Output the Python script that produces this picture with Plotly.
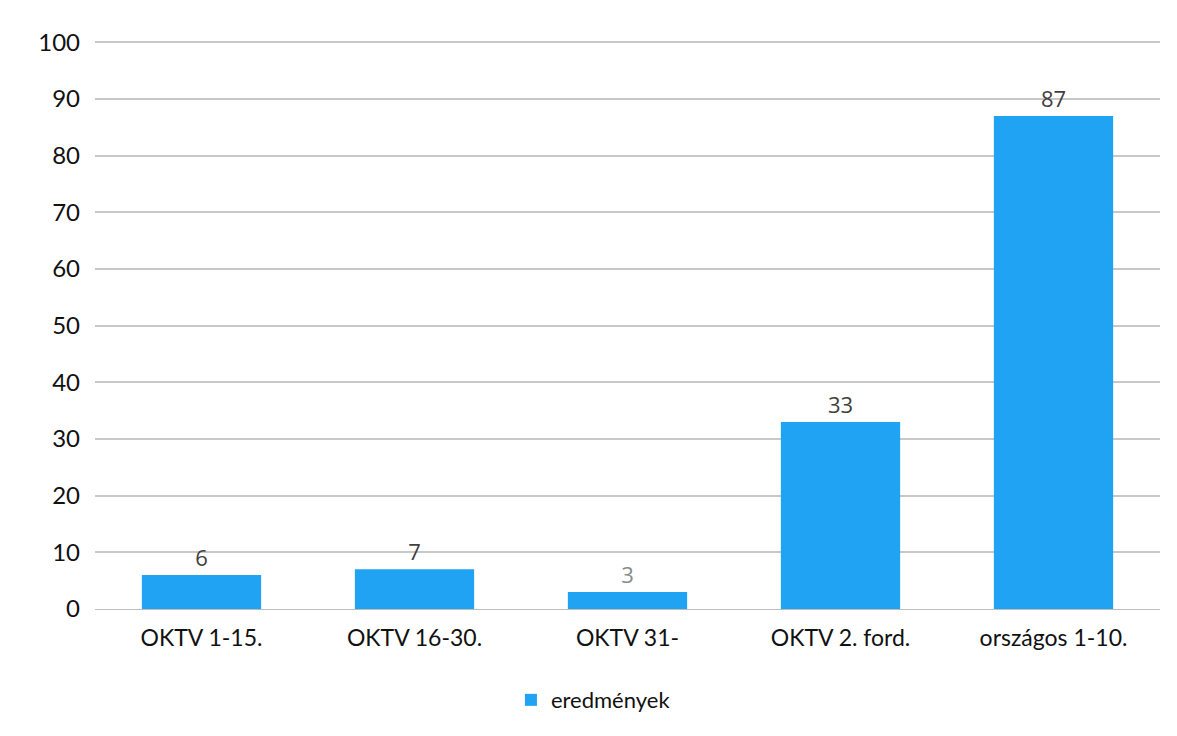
import plotly.graph_objects as go

categories = ["OKTV 1-15.", "OKTV 16-30.", "OKTV 31-", "OKTV 2. ford.", "országos 1-10."]
values = [6, 7, 3, 33, 87]
label_colors = ["#404040", "#404040", "#8a8a8a", "#404040", "#404040"]
series_name = "eredmények"
y_ticks = [0, 10, 20, 30, 40, 50, 60, 70, 80, 90, 100]

fig = go.Figure()
fig.add_trace(go.Bar(
    x=categories, y=values, name=series_name,
    marker=dict(color="#1fa3f2", line=dict(width=0)),
    text=[str(v) for v in values], textposition="outside",
    textfont=dict(size=22, color=label_colors, family="Open Sans, Lato, sans-serif"),
    cliponaxis=False,
))
fig.update_layout(
    width=1177, height=736,
    paper_bgcolor="white", plot_bgcolor="white",
    margin=dict(l=87, r=25, t=32, b=135),
    bargap=0.44,
    font=dict(family="Lato, Open Sans, sans-serif", color="#111111"),
    showlegend=True,
    legend=dict(orientation="h", x=0.468, xanchor="center", y=-0.16, yanchor="middle",
                font=dict(size=22, color="#111111"), itemwidth=30),
    xaxis=dict(tickfont=dict(size=23, color="#111111"), showgrid=False,
               showline=True, linecolor="#bdbdbd", ticks="", ticklabelstandoff=8),
    yaxis=dict(range=[0, 100.4], tickvals=y_ticks, tickfont=dict(size=24, color="#111111"),
               showgrid=True, gridcolor="#c8c8c8", gridwidth=1.5, zeroline=False,
               ticks="", ticklabelstandoff=14),
)
fig.write_html("out.html")
